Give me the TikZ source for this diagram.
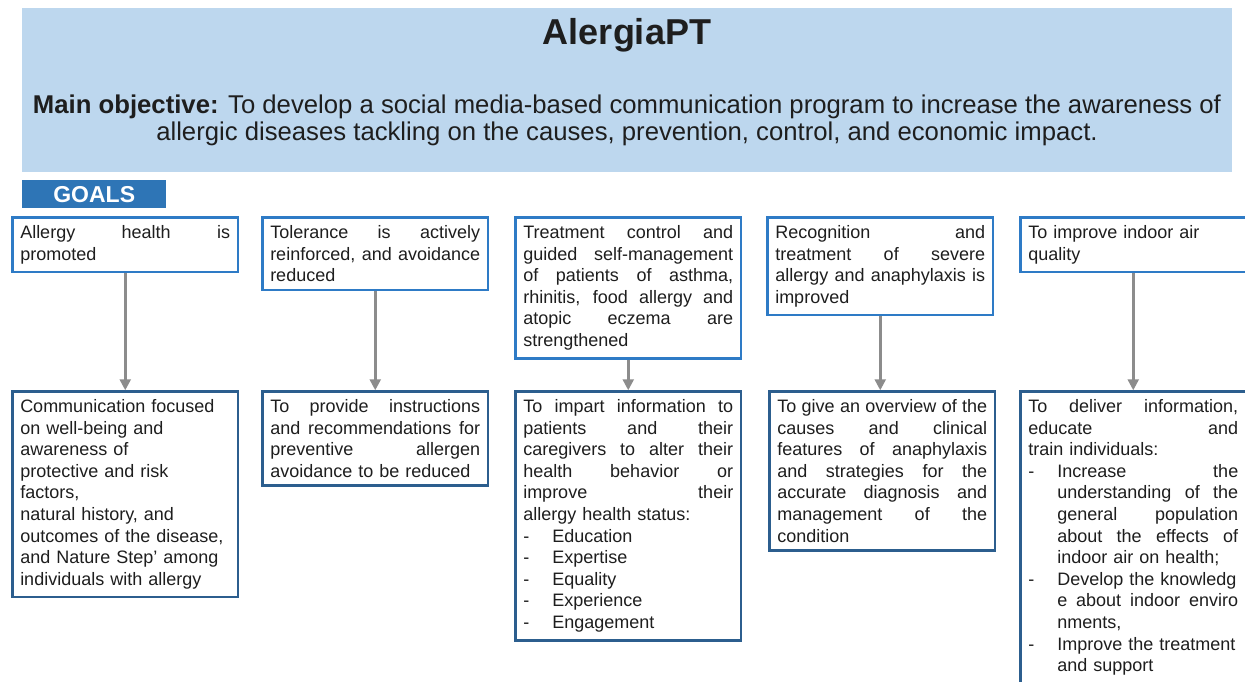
\documentclass[tikz,border=0pt]{standalone}
\usepackage{fontspec}
\setmainfont{Liberation Sans}
\usetikzlibrary{arrows.meta}
\definecolor{hdr}{HTML}{BDD7EE}
\definecolor{goalc}{HTML}{2E75B6}
\definecolor{topb}{HTML}{2E7BC6}
\definecolor{botb}{HTML}{2C5E8E}
\definecolor{arrc}{HTML}{8C8C8C}
\definecolor{txt}{HTML}{1E1E1E}
\newcommand{\JLine}[1]{\makebox[\hsize][s]{\spaceskip=0pt\xspaceskip=0pt #1}}
\newcommand{\ItmLine}[1]{\makebox[29pt][l]{-}#1}
\newcommand{\ItmJLine}[1]{\makebox[29pt][l]{-}\makebox[\dimexpr\hsize-29pt\relax][s]{\spaceskip=0pt\xspaceskip=0pt #1}}
\newcommand{\IndLine}[1]{\hspace*{29pt}#1}
\newcommand{\IndJLine}[1]{\hspace*{29pt}\makebox[\dimexpr\hsize-29pt\relax][s]{\spaceskip=0pt\xspaceskip=0pt #1}}
\tikzset{
  gbox/.style={draw=topb, line width=2.5pt, fill=white, text=txt, text width=210pt,
    inner xsep=7.75pt, inner ysep=8pt, align=left, anchor=north west,
    font={\fontsize{18}{21.6}\selectfont}},
  obox/.style={gbox, draw=botb},
  conn/.style={draw=arrc, line width=2.5pt, -{Triangle[width=11pt,length=11pt]}}
}
\begin{document}
\begin{tikzpicture}[x=1pt,y=-1pt]
\useasboundingbox (0,0) rectangle (1245,681);
\clip (0,0) rectangle (1245,681);
\fill[white] (0,0) rectangle (1245,681);
% header
\node[fill=hdr, minimum width=1210pt, minimum height=164pt, inner sep=0pt, anchor=north west] (hdr) at (22,8) {};
\node[anchor=base, inner sep=0pt, text=txt, font={\fontsize{36}{40}\selectfont\bfseries}] (title) at (627,44) {AlergiaPT};
\node[anchor=north, inner sep=0pt, text=txt, align=center, font={\fontsize{25.7}{27}\selectfont}] (obj) at (627,94.5)
  {\textbf{Main objective:} To develop a social media-based communication program to increase the awareness of\\
   allergic diseases tackling on the causes, prevention, control, and economic impact.};
% goals label
\node[fill=goalc, minimum width=144pt, minimum height=28pt, inner sep=0pt, anchor=north west,
  text=white, font={\fontsize{23}{26}\selectfont\bfseries}] (goals) at (22,180) {GOALS};
% top boxes
\node[gbox] (t1) at (11.25,216.25) {\JLine{Allergy health is}\\promoted};
\node[gbox] (t2) at (261.25,216.25) {\JLine{Tolerance is actively}\\\JLine{reinforced, and avoidance}\\reduced};
\node[gbox] (t3) at (514.25,216.25) {\JLine{Treatment control and}\\\JLine{guided self-management}\\\JLine{of patients of asthma,}\\\JLine{rhinitis, food allergy and}\\\JLine{atopic eczema are}\\strengthened};
\node[gbox] (t4) at (766.25,216.25) {\JLine{Recognition and}\\\JLine{treatment of severe}\\\JLine{allergy and anaphylaxis is}\\improved};
\node[gbox] (t5) at (1019.25,216.25) {To improve indoor air\\quality};
% bottom boxes
\node[obox] (b1) at (11.25,390.25) {Communication focused\\on well-being and\\awareness of\\protective and risk\\factors,\\natural history, and\\outcomes of the disease,\\and Nature Step' among\\individuals with allergy};
\node[obox] (b2) at (261.25,390.25) {\JLine{To provide instructions}\\\JLine{and recommendations for}\\\JLine{preventive allergen}\\avoidance to be reduced};
\node[obox] (b3) at (514.25,390.25) {\JLine{To impart information to}\\\JLine{patients and their}\\\JLine{caregivers to alter their}\\\JLine{health behavior or}\\\JLine{improve their}\\allergy health status:\\\ItmLine{Education}\\\ItmLine{Expertise}\\\ItmLine{Equality}\\\ItmLine{Experience}\\\ItmLine{Engagement}};
\node[obox] (b4) at (768.25,390.25) {\JLine{To give an overview of the}\\\JLine{causes and clinical}\\\JLine{features of anaphylaxis}\\\JLine{and strategies for the}\\\JLine{accurate diagnosis and}\\\JLine{management of the}\\condition};
\node[obox] (b5) at (1019.25,390.25) {\JLine{To deliver information,}\\\JLine{educate and}\\train individuals:\\\ItmJLine{Increase the}\\\IndJLine{understanding of the}\\\IndJLine{general population}\\\IndJLine{about the effects of}\\\IndLine{indoor air on health;}\\\ItmLine{Develop the knowledg}\\\IndJLine{e about indoor enviro}\\\IndLine{nments,}\\\ItmLine{Improve the treatment}\\\IndLine{and support}};
% connectors
\foreach \i in {1,...,5}{
  \draw[conn] (t\i.south) -- (t\i.south |- b\i.north);
}
\end{tikzpicture}
\end{document}
